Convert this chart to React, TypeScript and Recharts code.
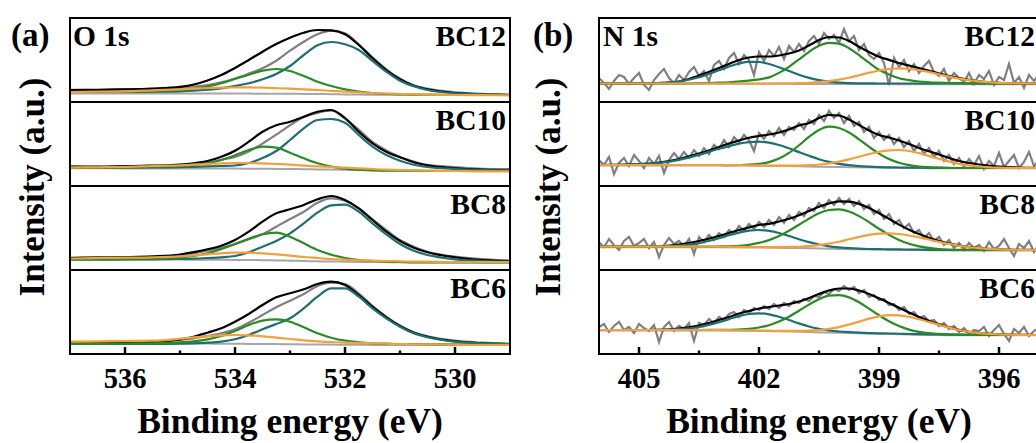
import { LineChart, Line, XAxis, YAxis } from 'recharts';

const SERIF = 'Liberation Serif';
const ROW = 84;
const TOP = 18;
const W = 440;

// ---- O 1s (panel a) ----
const O1S_E = [537, 536.5, 536, 535.5, 535, 534.75, 534.5, 534.25, 534, 533.75, 533.5, 533.25, 533, 532.75, 532.5, 532.25, 532, 531.75, 531.5, 531.25, 531, 530.75, 530.5, 530, 529.5, 529];
const O1S_TICKS = [536, 535, 534, 533, 532, 531, 530];
const O1S_MAJOR = [536, 534, 532, 530];

const O1S_BC12_RAW = [12.2, 11.8, 12.8, 13.1, 14.2, 15.6, 16.9, 19.6, 23.5, 28.4, 33.7, 41.3, 51.3, 60.3, 67.7, 71.3, 68.7, 57.7, 44.7, 32.7, 23.3, 16.7, 13.3, 9.6, 8.2, 7.4];
const O1S_BC12_FIT = [12, 12.2, 12.6, 13.4, 15.2, 17.5, 21.5, 27, 34, 42, 50.3, 58, 64.3, 69.3, 72, 71.7, 67.7, 57, 43.7, 32, 22.7, 16.3, 12.7, 9, 7.7, 7];
const O1S_BC12_P1 = [10, 10, 10, 10.3, 10.7, 11.3, 12.3, 13.7, 16, 18.7, 22.7, 28, 36, 47, 56.7, 60, 57.7, 52, 41, 30.3, 21.3, 15.7, 12, 8.7, 7.7, 7];
const O1S_BC12_P2 = [10, 10, 10.3, 10.7, 12, 13.3, 15.3, 18.7, 23, 27.3, 31.3, 33, 31, 26, 20.3, 16, 12.7, 10.3, 9, 8, 7.7, 7.3, 7.3, 7, 7, 7];
const O1S_BC12_P3 = [10, 10.3, 10.7, 11.7, 12.7, 13.3, 14, 14.4, 14.7, 14.6, 14.3, 13.8, 13.3, 12.6, 12, 11.1, 10.3, 9.6, 9, 8.5, 8, 7.6, 7.3, 7, 6.8, 6.7];
const O1S_BC12_BG = [8.5, 8.5, 8.5, 8.5, 8.5, 8.5, 8.5, 8.5, 8.4, 8.4, 8.3, 8.3, 8.2, 8.1, 8, 7.8, 7.6, 7.4, 7.3, 7.2, 7.2, 7.1, 7.1, 7, 7, 7];

const O1S_BC10_RAW = [19.5, 18.9, 19.9, 20.1, 20.8, 21.6, 23.1, 26.3, 29.1, 34.6, 42.4, 51.3, 60.7, 68.9, 73.1, 75.5, 67.4, 56.3, 44, 35.6, 29.1, 24.5, 21.1, 18.9, 17.1, 16.8];
const O1S_BC10_FIT = [19.3, 19.3, 19.7, 20.3, 21.3, 22.7, 25, 29.3, 35.3, 44.3, 54.3, 60.7, 64.3, 69.3, 74.3, 76, 68, 54.3, 42.7, 34.3, 28.7, 23.7, 20.7, 17.7, 16.3, 15.7];
const O1S_BC10_P1 = [18.3, 18.3, 18.3, 18.5, 18.8, 19.2, 19.6, 20, 20.5, 23, 28, 35, 46, 57.7, 66, 67, 63.3, 51, 39.3, 31, 25.3, 21.3, 19, 17, 16, 15.7];
const O1S_BC10_P2 = [18.3, 18.3, 18.7, 19.3, 20, 21.3, 22.7, 26, 30.7, 36, 39.3, 38.3, 33.3, 27.7, 22.7, 19.3, 17.3, 16.3, 15.7, 15.3, 15.3, 15.3, 15, 15, 15, 15];
const O1S_BC10_P3 = [18.3, 18.7, 19, 20, 20.7, 21.3, 22, 22.7, 23, 23, 22.7, 22, 21.3, 20.3, 19.7, 19, 18.3, 17.7, 17, 16.3, 16, 15.7, 15.3, 15, 14.7, 14.7];
const O1S_BC10_BG = [17.7, 17.7, 17.6, 17.6, 17.5, 17.5, 17.5, 17.4, 17.4, 17.3, 17.2, 17.1, 17, 16.8, 16.6, 16.4, 16.2, 16, 15.8, 15.6, 15.5, 15.4, 15.3, 15.2, 15.1, 15];

const O1S_BC8_RAW = [12.2, 12.6, 12.4, 12.7, 14.7, 16.7, 19.3, 22.3, 26, 30.7, 35.7, 43.3, 51, 58.3, 67.3, 71.7, 69.3, 61.7, 50.7, 40, 30, 23.3, 18.3, 13.3, 11, 9.3];
const O1S_BC8_FIT = [12, 12.3, 12.8, 13.6, 15.5, 17.8, 20.7, 24.3, 30, 38.3, 48.3, 56.7, 60.7, 65, 70.7, 74, 70, 61.7, 50, 38.3, 29, 22.3, 17.7, 12.7, 10, 9];
const O1S_BC8_P1 = [10.5, 10.5, 10.6, 10.7, 11, 11.3, 12, 12.7, 14, 17.7, 23.3, 29, 36.7, 46.7, 57.3, 64.7, 65.3, 58.3, 46.7, 35.7, 26, 19.3, 15, 10.7, 9, 8.5];
const O1S_BC8_P2 = [10.5, 10.6, 10.9, 11.3, 12.7, 14, 16.7, 21, 26, 31.3, 35.7, 37.3, 33.3, 26.7, 20, 15.3, 12, 10, 9, 8.3, 8, 7.7, 7.7, 7.7, 7.7, 7.7];
const O1S_BC8_P3 = [11.5, 12, 12.3, 12.7, 13.7, 14.7, 15.7, 16.7, 17.3, 17.3, 16.7, 15.7, 14.3, 13, 12, 11, 10.3, 9.7, 9.3, 9, 8.7, 8.3, 8.3, 8, 8, 8];
const O1S_BC8_BG = [10.5, 10.5, 10.5, 10.4, 10.4, 10.3, 10.3, 10.2, 10.1, 10, 9.8, 9.6, 9.3, 9, 8.7, 8.5, 8.3, 8.1, 8, 7.9, 7.8, 7.8, 7.7, 7.7, 7.6, 7.6];

const O1S_BC6_RAW = [11.5, 11.8, 11.5, 12, 14, 15.7, 18, 20.7, 24.7, 31.3, 39, 46.7, 53.3, 60, 68, 71.3, 70, 60.7, 48, 37.3, 28.3, 21.7, 17.7, 13.3, 11.3, 10.2];
const O1S_BC6_FIT = [10.7, 11, 11.3, 12.2, 14.5, 17.3, 21.3, 25.7, 32.3, 40, 49, 56.7, 60.7, 64.7, 70, 72.3, 69, 59, 47.3, 36.7, 28, 21.3, 17.3, 12.7, 10.7, 10];
const O1S_BC6_P1 = [10, 10, 10, 10, 10.3, 10.7, 11.3, 12.3, 14.7, 19, 24.7, 30, 35.7, 45.7, 57.3, 65.7, 65.7, 57.3, 45.7, 35.7, 27.3, 20.7, 16.7, 12.3, 10.7, 10];
const O1S_BC6_P2 = [10.3, 10.4, 10.5, 10.7, 11.7, 12.7, 14.7, 18, 23, 29, 33.3, 34.7, 32.3, 26.7, 20.7, 16.3, 13.3, 11.7, 10.7, 10.3, 10, 10, 9.7, 9.7, 9.7, 9.7];
const O1S_BC6_P3 = [12.3, 12.6, 13, 13.3, 15.3, 16.7, 17.7, 18.7, 19, 18.7, 17.7, 16.3, 15, 13.7, 12.7, 12, 11.3, 11, 10.7, 10.3, 10, 9.7, 9.7, 9.3, 9, 9];
const O1S_BC6_BG = [10.7, 10.7, 10.6, 10.6, 10.5, 10.5, 10.4, 10.3, 10.2, 10.1, 10, 9.9, 9.8, 9.6, 9.5, 9.4, 9.3, 9.2, 9.1, 9.1, 9, 9, 9, 9, 9, 9];

// ---- N 1s (panel b) ----
const N1S_E = [406, 405.5, 405, 404.5, 404, 403.5, 403, 402.75, 402.5, 402.25, 402, 401.75, 401.5, 401.25, 401, 400.75, 400.5, 400.25, 400, 399.75, 399.5, 399.25, 399, 398.75, 398.5, 398.25, 398, 397.5, 397, 396.5, 396, 395.5, 395];
const N1S_RAW_E = [406, 405.875, 405.75, 405.625, 405.5, 405.375, 405.25, 405.125, 405, 404.875, 404.75, 404.625, 404.5, 404.375, 404.25, 404.125, 404, 403.875, 403.75, 403.625, 403.5, 403.375, 403.25, 403.125, 403, 402.875, 402.75, 402.625, 402.5, 402.375, 402.25, 402.125, 402, 401.875, 401.75, 401.625, 401.5, 401.375, 401.25, 401.125, 401, 400.875, 400.75, 400.625, 400.5, 400.375, 400.25, 400.125, 400, 399.875, 399.75, 399.625, 399.5, 399.375, 399.25, 399.125, 399, 398.875, 398.75, 398.625, 398.5, 398.375, 398.25, 398.125, 398, 397.875, 397.75, 397.625, 397.5, 397.375, 397.25, 397.125, 397, 396.875, 396.75, 396.625, 396.5, 396.375, 396.25, 396.125, 396, 395.875, 395.75, 395.625, 395.5, 395.375, 395.25, 395.125, 395];
const N1S_BG_E = [406, 403, 402, 401, 400, 399, 398, 397, 395];
const N1S_TICKS = [405, 403.5, 402, 400.5, 399, 397.5, 396];
const N1S_MAJOR = [405, 402, 399, 396];

const N1S_BC12_RAW = [24, 19, 13, 21, 27, 25, 18, 24, 29, 17, 12, 22, 28, 33, 24, 19, 27, 22, 30, 35, 26, 31, 21, 37, 41, 33, 44, 49, 38, 47, 42, 27, 50, 41, 52, 46, 55, 43, 56, 50, 58, 51, 61, 66, 58, 69, 63, 67, 59, 73, 61, 66, 52, 58, 47, 43, 49, 39, 17, 44, 35, 42, 31, 38, 29, 36, 41, 30, 26, 33, 21, 29, 24, 20, 29, 18, 27, 23, 31, 17, 25, 22, 38, 19, 25, 14, 27, 21, 28];
const N1S_BC12_FIT = [18.5, 18.5, 18.6, 19, 20.5, 26.5, 34, 38, 42, 44.5, 45.5, 45.5, 46.5, 48.5, 51.6, 56.5, 62, 65, 64.5, 61, 55.3, 50, 45.2, 42.1, 39, 36.5, 33.9, 28.5, 23.8, 20.7, 19.2, 18.7, 18.5];
const N1S_BC12_P1 = [18.5, 18.5, 18.6, 19, 20.5, 24.7, 31.7, 35.5, 38.5, 40.1, 40, 38, 34.8, 31, 27.2, 24.1, 21.8, 20.3, 19.4, 18.9, 18.7, 18.6, 18.5, 18.5, 18.5, 18.5, 18.5, 18.5, 18.5, 18.5, 18.5, 18.5, 18.5];
const N1S_BC12_P2 = [18.5, 18.5, 18.5, 18.5, 18.5, 18.9, 19.3, 19.7, 20.5, 21.4, 22.6, 24.6, 29.1, 35.2, 42.6, 50.2, 56.2, 59.1, 58.3, 53.8, 46.9, 39.3, 32.2, 27.5, 23.8, 21.8, 20.5, 19.3, 18.9, 18.6, 18.5, 18.5, 18.5];
const N1S_BC12_P3 = [18.5, 18.5, 18.5, 18.5, 18.5, 18.5, 18.5, 18.5, 18.5, 18.5, 18.5, 18.5, 18.6, 18.6, 18.8, 19.2, 19.8, 20.8, 22.3, 24.3, 26.7, 29.2, 31.5, 33.1, 33.7, 33.2, 31.9, 27.7, 23.4, 20.6, 19.2, 18.7, 18.5];
const N1S_BC12_BG = [18.2, 18.2, 18.2, 18.1, 18, 17.9, 17.8, 17.8, 17.8];

const N1S_BC10_RAW = [26, 21, 29, 12, 23, 28, 20, 31, 25, 18, 28, 22, 30, 13, 26, 33, 27, 34, 28, 36, 30, 38, 32, 41, 37, 46, 39, 49, 44, 51, 46, 35, 53, 47, 55, 50, 58, 51, 59, 56, 63, 57, 66, 62, 71, 65, 75, 68, 73, 63, 70, 60, 64, 54, 59, 48, 54, 46, 51, 42, 48, 39, 45, 35, 42, 32, 38, 29, 35, 25, 31, 22, 28, 19, 27, 21, 30, 17, 25, 20, 33, 19, 25, 31, 18, 24, 34, 20, 26];
const N1S_BC10_FIT = [21, 21.2, 21.8, 23.5, 27, 32.5, 39, 42.5, 45.5, 48.3, 50, 51.5, 53.5, 56.5, 60.5, 63, 68, 71, 70.5, 66.5, 61, 55.5, 51, 48.5, 45.5, 42, 38, 31.5, 25, 21.5, 19.5, 18.5, 18.2];
const N1S_BC10_P1 = [21.1, 21.2, 21.8, 23.2, 26.2, 31.1, 37.2, 39.8, 42.3, 43.8, 44.3, 43.3, 41, 37.7, 33.9, 30.2, 26.8, 24.1, 22.1, 20.8, 19.9, 19.3, 18.9, 18.6, 18.5, 18.3, 18.3, 18.1, 18, 18, 18, 18, 18];
const N1S_BC10_P2 = [21, 21, 21, 21, 21, 21, 21, 20.9, 21, 21.3, 22.1, 23.9, 27.4, 33.1, 40.7, 49.1, 56, 59.3, 58, 53.5, 46.7, 39.3, 32.4, 26.9, 23.2, 20.8, 19.4, 18.3, 18, 18, 18, 18, 18];
const N1S_BC10_P3 = [21, 21, 21, 21, 21, 21, 21, 20.9, 20.8, 20.7, 20.6, 20.5, 20.4, 20.4, 20.5, 20.8, 21.5, 22.7, 24.3, 26.6, 29.3, 31.9, 34.2, 35.7, 36, 35, 32.9, 27.2, 22.2, 19.5, 18.4, 18.1, 18];
const N1S_BC10_BG = [20.6, 20.6, 20.3, 19.7, 19, 18.4, 18, 17.7, 17.7];

const N1S_BC8_RAW = [28, 23, 31, 25, 20, 29, 33, 24, 27, 31, 22, 28, 13, 25, 32, 26, 29, 24, 31, 16, 33, 28, 35, 30, 37, 33, 40, 36, 44, 39, 46, 41, 48, 43, 50, 45, 53, 47, 55, 50, 58, 54, 62, 59, 67, 62, 70, 65, 72, 66, 71, 64, 69, 61, 65, 56, 60, 51, 56, 46, 50, 42, 46, 37, 40, 32, 37, 29, 33, 25, 30, 22, 27, 20, 27, 22, 25, 19, 28, 21, 24, 31, 22, 14, 26, 22, 29, 18, 25];
const N1S_BC8_FIT = [23.3, 23.3, 23.3, 23.5, 25.5, 29, 34, 37, 40, 42.5, 45, 46.2, 48.5, 51.2, 54.7, 58.9, 63.2, 66.6, 68.6, 68.4, 66.1, 62.1, 56.8, 51.1, 45.4, 40.3, 35.9, 28.9, 24.4, 21.8, 20.6, 20.2, 20];
const N1S_BC8_P1 = [23.3, 23.3, 23.3, 23.5, 24.4, 26.9, 31.8, 34.7, 37.4, 39.3, 40, 39.1, 37, 34, 30.8, 27.9, 25.5, 23.7, 22.6, 21.8, 21.3, 21, 20.8, 20.7, 20.6, 20.4, 20.3, 20.1, 20, 20, 20, 20, 20];
const N1S_BC8_P2 = [23.3, 23.3, 23.3, 23.3, 23.3, 23.3, 23.5, 23.7, 24.2, 25.2, 27.1, 29.9, 34, 39.2, 45.3, 51.4, 56.7, 60, 60.7, 58.5, 53.9, 47.9, 41.2, 35.1, 30, 26.2, 23.6, 20.9, 20.2, 20, 20, 20, 20];
const N1S_BC8_P3 = [23.3, 23.3, 23.3, 23.3, 23.3, 23.3, 23.3, 23.2, 23.1, 23, 23, 22.8, 22.9, 23, 23.2, 23.8, 24.8, 26.3, 28.3, 30.7, 33.1, 35.2, 36.4, 36.7, 36, 34.5, 32.6, 28.1, 24.2, 21.8, 20.6, 20.2, 20];
const N1S_BC8_BG = [22.8, 22.8, 22.5, 21.9, 21.1, 20.4, 19.9, 19.6, 19.6];

const N1S_BC6_RAW = [27, 30, 22, 28, 32, 24, 27, 21, 30, 26, 23, 29, 12, 27, 32, 23, 28, 25, 31, 13, 31, 29, 35, 31, 37, 34, 40, 42, 37, 44, 41, 46, 44, 48, 45, 50, 46, 51, 48, 53, 51, 55, 53, 58, 57, 62, 60, 65, 63, 68, 64, 67, 61, 64, 57, 59, 54, 55, 49, 50, 44, 47, 40, 42, 36, 38, 33, 34, 28, 31, 25, 28, 22, 26, 20, 24, 23, 27, 18, 24, 29, 20, 13, 25, 21, 27, 18, 23, 26];
const N1S_BC6_FIT = [24, 24, 24, 24.1, 25.5, 28.5, 34, 37, 40.5, 43, 45.5, 47, 48.5, 50, 52.5, 56, 60, 63.5, 65.5, 65.5, 63.5, 60, 55.7, 51.1, 46.2, 41.5, 37.1, 29.6, 24.1, 20.8, 19.6, 19.1, 19];
const N1S_BC6_P1 = [24, 24, 24, 24.1, 24.8, 27, 31.9, 34.9, 37.9, 40, 40.7, 39.7, 37.3, 34, 30.6, 27.5, 25.2, 23.5, 22.5, 21.8, 21.3, 20.95, 20.7, 20.5, 20.25, 20, 19.8, 19.55, 19.3, 19, 19, 19, 19];
const N1S_BC6_P2 = [24, 24, 24, 24, 24, 24, 24.1, 24.1, 24.5, 25.1, 26.5, 28.8, 32.4, 37.3, 43.3, 49.4, 54.8, 58.3, 58.9, 56.6, 51.7, 45.4, 38.7, 32.7, 27.9, 24.4, 22.1, 20.1, 19.4, 19, 19, 19, 19];
const N1S_BC6_P3 = [24, 24, 24, 24, 24, 24, 24, 23.8, 23.75, 23.6, 23.5, 23.3, 23.2, 23.1, 23.1, 23.3, 23.9, 25.1, 26.9, 29.5, 32.4, 35.4, 37.7, 38.9, 38.6, 37.1, 34.8, 29.1, 24, 20.8, 19.6, 19.1, 19];
const N1S_BC6_BG = [23.5, 23.5, 23, 22.2, 21.2, 20.2, 19.3, 18.8, 18.7];

const SAMPLES = ['BC12', 'BC10', 'BC8', 'BC6'];

const C_RAW = '#808080';
const C_BG = '#a6a6a6';
const C_FIT = '#000000';
const C_P1 = '#1f6f72';
const C_P2 = '#2a8a24';
const C_P3 = '#f2a03c';

type Pt = { e: number; v: number };
const pts = (xs: number[], ys: number[]): Pt[] => xs.map((e, i) => ({ e, v: ys[i] }));

interface Row {
  raw: Pt[];
  bg: Pt[];
  fit: Pt[];
  p1: Pt[];
  p2: Pt[];
  p3: Pt[];
}

const O1S_ROWS: Row[] = [
  [O1S_BC12_RAW, O1S_BC12_BG, O1S_BC12_FIT, O1S_BC12_P1, O1S_BC12_P2, O1S_BC12_P3],
  [O1S_BC10_RAW, O1S_BC10_BG, O1S_BC10_FIT, O1S_BC10_P1, O1S_BC10_P2, O1S_BC10_P3],
  [O1S_BC8_RAW, O1S_BC8_BG, O1S_BC8_FIT, O1S_BC8_P1, O1S_BC8_P2, O1S_BC8_P3],
  [O1S_BC6_RAW, O1S_BC6_BG, O1S_BC6_FIT, O1S_BC6_P1, O1S_BC6_P2, O1S_BC6_P3],
].map(([raw, bg, fit, p1, p2, p3]) => ({
  raw: pts(O1S_E, raw),
  bg: pts(O1S_E, bg),
  fit: pts(O1S_E, fit),
  p1: pts(O1S_E, p1),
  p2: pts(O1S_E, p2),
  p3: pts(O1S_E, p3),
}));

const N1S_ROWS: Row[] = [
  [N1S_BC12_RAW, N1S_BC12_BG, N1S_BC12_FIT, N1S_BC12_P1, N1S_BC12_P2, N1S_BC12_P3],
  [N1S_BC10_RAW, N1S_BC10_BG, N1S_BC10_FIT, N1S_BC10_P1, N1S_BC10_P2, N1S_BC10_P3],
  [N1S_BC8_RAW, N1S_BC8_BG, N1S_BC8_FIT, N1S_BC8_P1, N1S_BC8_P2, N1S_BC8_P3],
  [N1S_BC6_RAW, N1S_BC6_BG, N1S_BC6_FIT, N1S_BC6_P1, N1S_BC6_P2, N1S_BC6_P3],
].map(([raw, bg, fit, p1, p2, p3]) => ({
  raw: pts(N1S_RAW_E, raw),
  bg: pts(N1S_BG_E, bg),
  fit: pts(N1S_E, fit),
  p1: pts(N1S_E, p1),
  p2: pts(N1S_E, p2),
  p3: pts(N1S_E, p3),
}));

const makeTick = (major: number[]) => (props: any) => {
  const { x, y, payload } = props;
  const isMajor = major.includes(payload.value);
  return (
    <g>
      <line x1={x} x2={x} y1={y} y2={y - (isMajor ? 7 : 3.5)} stroke="#000" strokeWidth={2.5} />
      {isMajor && (
        <text x={x} y={y + 34} textAnchor="middle" fontSize={28.5} fontWeight="bold" fontFamily={SERIF} fill="#000">
          {payload.value}
        </text>
      )}
    </g>
  );
};

interface PanelProps {
  left: number;
  domain: [number, number];
  ticks: number[];
  major: number[];
  rows: Row[];
  rawType: 'linear' | 'monotone';
}

function Panel({ left, domain, ticks, major, rows, rawType }: PanelProps) {
  return (
    <>
      {rows.map((r, i) => {
        const last = i === rows.length - 1;
        return (
          <div key={i} style={{ position: 'absolute', left, top: TOP + i * ROW }}>
            <LineChart width={W} height={last ? ROW + 89 : ROW} margin={{ top: 0, right: 0, bottom: 0, left: 0 }}>
              <XAxis
                type="number"
                dataKey="e"
                domain={domain}
                reversed
                allowDataOverflow
                hide={!last}
                height={last ? 89 : 0}
                ticks={ticks}
                interval={0}
                tickSize={0}
                tickMargin={0}
                tickLine={false}
                axisLine={false}
                tick={makeTick(major)}
                label={
                  last
                    ? {
                        value: 'Binding energy (eV)',
                        position: 'insideBottom',
                        offset: 10,
                        fill: '#000',
                        fontSize: 35.5,
                        fontWeight: 'bold',
                        fontFamily: SERIF,
                      }
                    : undefined
                }
              />
              <YAxis type="number" domain={[0, ROW]} hide allowDataOverflow />
              <Line data={r.bg} dataKey="v" type="monotone" stroke={C_BG} strokeWidth={2} dot={false} activeDot={false} isAnimationActive={false} />
              <Line data={r.raw} dataKey="v" type={rawType} stroke={C_RAW} strokeWidth={2.2} dot={false} activeDot={false} isAnimationActive={false} />
              <Line data={r.fit} dataKey="v" type="monotone" stroke={C_FIT} strokeWidth={2.2} dot={false} activeDot={false} isAnimationActive={false} />
              <Line data={r.p1} dataKey="v" type="monotone" stroke={C_P1} strokeWidth={2.2} dot={false} activeDot={false} isAnimationActive={false} />
              <Line data={r.p2} dataKey="v" type="monotone" stroke={C_P2} strokeWidth={2.2} dot={false} activeDot={false} isAnimationActive={false} />
              <Line data={r.p3} dataKey="v" type="monotone" stroke={C_P3} strokeWidth={2.2} dot={false} activeDot={false} isAnimationActive={false} />
            </LineChart>
            <div
              style={{
                position: 'absolute',
                left: -1.25,
                top: -1.25,
                width: W + 2.5,
                height: ROW + 2.5,
                border: '2.5px solid #000',
                boxSizing: 'border-box',
                pointerEvents: 'none',
              }}
            />
          </div>
        );
      })}
    </>
  );
}

export default function App() {
  const txt = { fontWeight: 'bold' as const, fill: '#000', fontFamily: SERIF };
  return (
    <div
      style={{
        position: 'absolute',
        left: 0,
        top: 0,
        width: 1036,
        height: 443,
        overflow: 'hidden',
        background: '#fff',
        fontFamily: SERIF,
      }}
    >
      <Panel left={70} domain={[529, 537]} ticks={O1S_TICKS} major={O1S_MAJOR} rows={O1S_ROWS} rawType="monotone" />
      <Panel left={599} domain={[395, 406]} ticks={N1S_TICKS} major={N1S_MAJOR} rows={N1S_ROWS} rawType="linear" />
      <svg width={1036} height={443} style={{ position: 'absolute', left: 0, top: 0, pointerEvents: 'none' }}>
        <text x={11} y={46} fontSize={33} {...txt}>(a)</text>
        <text x={533} y={46} fontSize={33} {...txt}>(b)</text>
        <text x={73} y={46} fontSize={29.5} {...txt}>O 1s</text>
        <text x={603} y={46} fontSize={29.5} {...txt}>N 1s</text>
        {SAMPLES.map((s, i) => (
          <text key={'a' + s} x={506} y={TOP + 28 + i * ROW} fontSize={29.5} textAnchor="end" {...txt}>{s}</text>
        ))}
        {SAMPLES.map((s, i) => (
          <text key={'b' + s} x={1035} y={TOP + 28 + i * ROW} fontSize={29.5} textAnchor="end" {...txt}>{s}</text>
        ))}
        <text transform="translate(44 187) rotate(-90)" textAnchor="middle" fontSize={35} {...txt}>Intensity (a.u.)</text>
        <text transform="translate(560 187) rotate(-90)" textAnchor="middle" fontSize={35} {...txt}>Intensity (a.u.)</text>
      </svg>
    </div>
  );
}
